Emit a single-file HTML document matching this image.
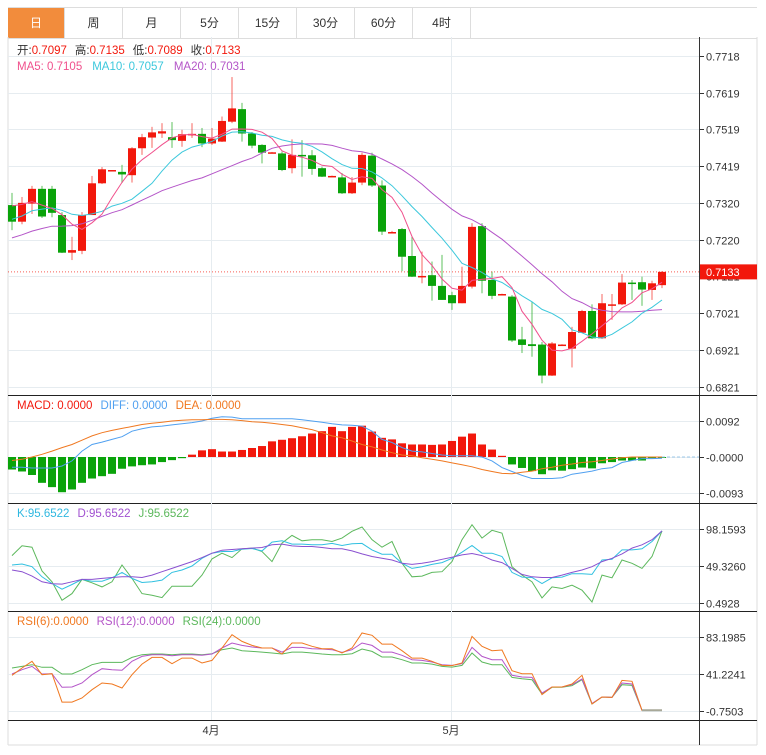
<!DOCTYPE html>
<html><head><meta charset="utf-8">
<style>
body{margin:0;background:#fff;font-family:"Liberation Sans","Noto Sans CJK SC",sans-serif;}
#wrap{position:relative;width:766px;height:755px;overflow:hidden;}
#tabs{position:absolute;left:8px;top:7px;height:30px;width:749px;border-top:1px solid #ddd;border-bottom:1px solid #ddd;display:flex;}
.tab{width:58px;height:30px;line-height:30px;text-align:center;font-size:12px;color:#333;border-right:1px solid #ddd;box-sizing:border-box;}
.tab.on{background:#f28c3c;color:#fff;width:57px;}
svg{position:absolute;left:0;top:0;}
</style></head>
<body>
<div id="wrap">
<div id="tabs">
<div class="tab on">日</div>
<div class="tab">周</div>
<div class="tab">月</div>
<div class="tab">5分</div>
<div class="tab">15分</div>
<div class="tab">30分</div>
<div class="tab">60分</div>
<div class="tab">4时</div>
</div>
<svg id="chart" width="766" height="755"></svg>
</div>
<script>
const prevCloses=[0.7150,0.7160,0.7140,0.7170,0.7180,0.7160,0.7190,0.7185,0.7200,0.7210,0.7230,0.7215,0.7240,0.7260,0.7250,0.7300,0.7320,0.7330,0.7340];
const opens=[0.7314,0.7269,0.7318,0.7358,0.7358,0.7287,0.7185,0.7190,0.7287,0.7373,0.7408,0.7404,0.7395,0.7468,0.7497,0.7508,0.7498,0.7488,0.7505,0.7507,0.7481,0.7486,0.7540,0.7574,0.7508,0.7477,0.7457,0.7454,0.7414,0.7450,0.7449,0.7414,0.7393,0.7389,0.7346,0.7375,0.7448,0.7367,0.7240,0.7249,0.7176,0.7122,0.7124,0.7095,0.7070,0.7048,0.7093,0.7257,0.7111,0.7073,0.7066,0.6950,0.6937,0.6936,0.6852,0.6936,0.6925,0.6968,0.7027,0.6953,0.7045,0.7045,0.7104,0.7105,0.7084,0.7097];
const highs=[0.7347,0.7336,0.7366,0.7366,0.7366,0.7295,0.7228,0.7295,0.7393,0.7417,0.7409,0.7423,0.7471,0.7507,0.7526,0.7536,0.7539,0.7518,0.7536,0.7523,0.7523,0.7554,0.7661,0.7591,0.7512,0.7479,0.7458,0.7459,0.7492,0.7490,0.7463,0.7418,0.7394,0.7401,0.7390,0.7456,0.7456,0.7381,0.7244,0.7252,0.7228,0.7188,0.7161,0.7179,0.7079,0.7147,0.7265,0.7265,0.7134,0.7074,0.7070,0.6984,0.7052,0.6943,0.6943,0.6937,0.6984,0.7030,0.7045,0.7073,0.7073,0.7127,0.7111,0.7120,0.7109,0.7135];
const lows=[0.7246,0.7262,0.7290,0.7279,0.7281,0.7184,0.7165,0.7181,0.7287,0.7371,0.7406,0.7374,0.7375,0.7450,0.7469,0.7496,0.7469,0.7472,0.7496,0.7471,0.7477,0.7485,0.7536,0.7486,0.7468,0.7427,0.7455,0.7406,0.7400,0.7391,0.7396,0.7390,0.7392,0.7344,0.7344,0.7368,0.7363,0.7233,0.7238,0.7135,0.7119,0.7102,0.7055,0.7057,0.7030,0.7048,0.7088,0.7075,0.7059,0.7072,0.6943,0.6913,0.6903,0.6831,0.6851,0.6935,0.6874,0.6968,0.6951,0.6951,0.7003,0.7043,0.7057,0.7041,0.7057,0.7089];
const closes=[0.7269,0.7320,0.7358,0.7283,0.7293,0.7185,0.7192,0.7287,0.7373,0.7411,0.7409,0.7397,0.7468,0.7498,0.7511,0.7514,0.7490,0.7506,0.7507,0.7481,0.7494,0.7542,0.7576,0.7508,0.7475,0.7456,0.7457,0.7409,0.7450,0.7447,0.7412,0.7391,0.7393,0.7346,0.7375,0.7450,0.7367,0.7242,0.7241,0.7174,0.7120,0.7122,0.7095,0.7057,0.7048,0.7095,0.7255,0.7109,0.7068,0.7073,0.6947,0.6935,0.6932,0.6852,0.6939,0.6936,0.6970,0.7027,0.6953,0.7048,0.7045,0.7104,0.7100,0.7085,0.7102,0.7133];
const macdHist=[-0.0032,-0.0037,-0.0046,-0.0066,-0.0077,-0.0090,-0.0083,-0.0066,-0.0055,-0.0049,-0.0043,-0.0030,-0.0024,-0.0021,-0.0019,-0.0013,-0.0008,-0.0003,0.0006,0.0017,0.0020,0.0014,0.0014,0.0018,0.0023,0.0028,0.0040,0.0044,0.0048,0.0053,0.0060,0.0066,0.0077,0.0066,0.0077,0.0080,0.0065,0.0049,0.0045,0.0035,0.0032,0.0032,0.0031,0.0032,0.0041,0.0052,0.0060,0.0032,0.0019,0.0003,-0.0019,-0.0028,-0.0036,-0.0044,-0.0034,-0.0035,-0.0031,-0.0027,-0.0029,-0.0016,-0.0013,-0.0009,-0.0009,-0.0009,-0.0003,-0.0001];
const diffVals=[-0.0026,-0.0026,-0.0028,-0.0028,-0.0028,-0.0023,-0.0010,0.0015,0.0032,0.0038,0.0045,0.0052,0.0066,0.0072,0.0077,0.0079,0.0082,0.0085,0.0088,0.0092,0.0099,0.0103,0.0102,0.0098,0.0098,0.0098,0.0098,0.0098,0.0098,0.0095,0.0092,0.0089,0.0085,0.0082,0.0081,0.0079,0.0066,0.0045,0.0037,0.0024,0.0015,0.0013,0.0009,0.0005,0.0003,0.0003,0.0003,0.0000,-0.0010,-0.0027,-0.0037,-0.0047,-0.0055,-0.0055,-0.0055,-0.0053,-0.0044,-0.0040,-0.0036,-0.0030,-0.0027,-0.0014,-0.0009,-0.0004,-0.0004,-0.0003];
const deaVals=[-0.0009,-0.0006,0.0000,0.0007,0.0015,0.0024,0.0032,0.0043,0.0054,0.0062,0.0068,0.0073,0.0078,0.0083,0.0086,0.0089,0.0092,0.0094,0.0095,0.0095,0.0096,0.0096,0.0095,0.0093,0.0090,0.0089,0.0086,0.0083,0.0080,0.0075,0.0070,0.0062,0.0054,0.0049,0.0041,0.0032,0.0026,0.0018,0.0011,0.0005,0.0003,-0.0002,-0.0006,-0.0010,-0.0015,-0.0020,-0.0025,-0.0032,-0.0037,-0.0042,-0.0043,-0.0039,-0.0036,-0.0030,-0.0026,-0.0021,-0.0018,-0.0014,-0.0012,-0.0009,-0.0005,-0.0002,0.0000,0.0000,0.0000,0.0000];
const kVals=[50.7,52.0,48.4,35.1,26.2,18.7,24.9,31.6,29.3,29.3,33.8,40.9,32.9,27.6,28.5,30.7,40.9,44.0,49.3,59.5,66.2,68.4,68.4,71.5,72.4,69.3,80.9,82.6,78.2,78.2,77.3,77.3,79.1,76.4,78.6,79.1,70.6,64.9,64.9,52.9,46.2,48.4,51.5,53.8,59.5,67.5,76.4,66.2,66.2,61.8,40.9,34.7,34.2,26.2,33.8,34.7,39.1,39.1,38.2,57.3,58.2,70.6,70.6,72.0,81.7,95.65];
const dVals=[44.0,41.8,36.0,28.5,25.8,25.4,28.5,31.6,31.6,32.9,34.2,35.1,35.1,34.2,37.3,41.8,46.2,50.7,55.1,60.4,66.2,70.2,71.1,72.0,72.9,73.7,77.3,78.2,75.9,75.1,75.1,73.7,72.0,72.0,69.3,65.3,61.8,59.5,57.3,52.9,51.5,52.9,55.1,58.2,60.9,64.0,65.8,63.1,57.3,53.8,46.2,38.2,35.1,34.2,34.2,37.3,40.9,44.0,48.4,55.1,59.5,65.3,72.9,77.3,84.0,95.65];
const jVals=[63.1,76.0,74.2,42.7,28.5,4.0,12.9,31.6,27.1,21.8,28.5,50.7,32.9,12.9,10.7,7.6,22.7,22.7,22.7,37.3,58.7,66.2,60.4,72.0,72.9,68.4,55.1,79.5,89.7,82.6,84.0,84.0,81.7,86.2,95.1,100.8,84.0,74.2,81.7,52.9,35.1,36.0,40.9,41.8,55.1,84.0,103.9,86.2,96.4,92.8,48.4,37.3,28.5,7.2,21.8,19.6,24.0,17.4,1.8,37.3,33.8,57.3,52.9,46.2,61.8,95.65];
const rsi6=[39.7,48.0,55.6,40.4,41.6,9.4,9.4,14.0,23.4,31.0,29.9,25.3,40.4,52.5,60.1,60.1,52.9,59.3,59.3,53.7,56.7,70.7,85.8,78.2,73.7,70.7,70.7,63.9,76.4,76.4,72.6,69.9,69.9,65.0,70.7,87.7,85.1,75.2,75.2,67.7,59.3,59.3,55.6,51.0,50.7,53.7,83.9,72.6,67.7,68.4,45.0,41.6,41.6,17.8,26.5,26.5,29.9,39.7,7.2,15.1,14.7,34.0,32.9,0,0,0];
const rsi12=[41.2,46.1,49.9,41.2,41.6,26.1,26.5,31.0,40.4,47.2,46.1,45.4,55.6,61.2,63.1,63.1,62.0,63.1,63.1,62.4,63.9,70.7,76.4,73.7,71.8,70.7,70.7,66.1,71.4,71.4,69.9,69.6,68.8,65.8,68.8,76.4,73.7,66.1,66.1,62.4,57.5,56.7,54.8,51.8,51.0,52.9,71.4,61.2,57.5,57.5,39.7,37.8,37.4,19.7,26.5,26.5,29.1,35.5,7.9,15.1,14.7,31.0,29.9,0,0,0];
const rsi24=[48.0,49.9,51.8,48.8,48.8,41.2,41.2,46.1,51.8,54.4,54.4,54.4,60.1,63.1,63.9,63.9,63.1,63.9,63.9,63.1,64.3,68.8,70.7,67.7,66.9,66.1,65.0,63.9,66.1,66.1,65.0,63.9,63.1,63.1,64.3,69.6,66.9,60.5,60.5,57.5,53.7,53.7,52.5,49.9,49.1,51.0,65.0,54.8,51.8,51.8,37.4,35.9,34.8,18.5,26.1,26.1,28.0,34.8,7.2,15.1,14.7,29.1,28.3,0,0,0];
const priceTicks=[0.7718,0.7619,0.7519,0.7419,0.7320,0.7220,0.7121,0.7021,0.6921,0.6821];
const macdTicks=[0.0092,0,-0.0093];
const macdTickLabels=["0.0092","-0.0000","-0.0093"];
const kdjTicks=[98.1593,49.3260,0.4928];
const rsiTicks=[83.1985,41.2241,-0.7503];
const monthLabels=["4月","5月"];
const monthIdx=[20,44];
const lastPrice=0.7133;

const S=document.getElementById('chart');
const NS='http://www.w3.org/2000/svg';
function mk(tag,attrs,name,txt){const e=document.createElementNS(NS,tag);for(const k in attrs)e.setAttribute(k,attrs[k]);


if(txt!==undefined)e.textContent=txt;S.appendChild(e);return e;}
const RED='#f2180c',GREEN='#0aa30a';
function X(i){return 12+i*10;}
function PY(p){return 387-(p-0.6821)/0.0897*331;}
function MY(v){return 457-v/0.0092*36;}
function KY(v){return 566-(v-49.326)/48.833*37;}
function RY(v){return 674-(v-41.2241)/41.9744*37;}
const N=closes.length;

mk('line',{x1:757,y1:37,x2:757,y2:745,stroke:'#ddd'},'outer-right-border');
mk('line',{x1:8,y1:745,x2:757,y2:745,stroke:'#ddd'},'outer-bottom-border');
mk('line',{x1:8,y1:37,x2:8,y2:745,stroke:'#ddd'},'outer-left-border');
mk('line',{x1:699.5,y1:37,x2:699.5,y2:745,stroke:'#333'},'right-axis-line');
[395.5,503.5,611.5,720.5].forEach(y=>mk('line',{x1:8,y1:y,x2:757,y2:y,stroke:'#222'},'panel-separator'));
monthIdx.forEach((ix,k)=>{mk('line',{x1:X(ix)-0.5,y1:37,x2:X(ix)-0.5,y2:720,stroke:'#e6ecf0'},'month-gridline');
mk('text',{x:X(ix)-1,y:734,'font-size':11,fill:'#333','text-anchor':'middle'},'x-axis-label',monthLabels[k]);});
function ticks(vals,labels,fy,nm){vals.forEach((v,k)=>{const y=Math.round(fy(v))+0.5;
mk('line',{x1:8,y1:y,x2:699,y2:y,stroke:'#e6ecf0'},nm+'-gridline');
mk('line',{x1:699,y1:y,x2:704,y2:y,stroke:'#333'},nm+'-tick');
mk('text',{x:706,y:y+4,'font-size':11,fill:'#333'},nm+'-tick-label',labels[k]);});}
ticks(priceTicks,priceTicks.map(v=>v.toFixed(4)),PY,'price');
ticks(macdTicks,macdTickLabels,MY,'macd');
ticks(kdjTicks,kdjTicks.map(v=>v.toFixed(4)),KY,'kdj');
ticks(rsiTicks,rsiTicks.map(v=>v.toFixed(4)),RY,'rsi');

for(let i=0;i<N;i++){const up=closes[i]>=opens[i];const c=up?RED:GREEN;const x=X(i);
mk('line',{x1:x,y1:PY(highs[i]),x2:x,y2:PY(lows[i]),stroke:c,'stroke-opacity':0.55,'stroke-width':1.2},'candle-wick');
const t=PY(Math.max(opens[i],closes[i])),b=PY(Math.min(opens[i],closes[i]));
mk('rect',{x:x-4,y:t,width:8,height:Math.max(1.5,b-t),fill:c},'candle-body');}

const all=prevCloses.concat(closes);const off=prevCloses.length;
function ma(n){const r=[];for(let i=0;i<N;i++){let s=0;for(let k=0;k<n;k++)s+=all[off+i-k];r.push(s/n);}return r;}
const ma5=ma(5),ma10=ma(10),ma20=ma(20);
function poly(arr,fy,col,name,w,from,to){const pts=[];for(let i=(from||0);i<(to||arr.length);i++)pts.push(X(i)+','+fy(arr[i]).toFixed(1));
mk('polyline',{points:pts.join(' '),fill:'none',stroke:col,'stroke-width':w||1},name);}
poly(ma20,PY,'#b455c8','ma20-line');poly(ma10,PY,'#3cc8dc','ma10-line');poly(ma5,PY,'#f0508c','ma5-line');
const ly=PY(lastPrice);
mk('line',{x1:8,y1:ly,x2:699,y2:ly,stroke:RED,'stroke-dasharray':'1,2','stroke-opacity':0.7},'last-price-line');
mk('rect',{x:700,y:ly-7.5,width:57,height:15,fill:RED},'last-price-tag');
mk('text',{x:706,y:ly+4,'font-size':11,fill:'#fff'},'last-price-value',lastPrice.toFixed(4));

for(let i=0;i<N;i++){const y0=MY(0),y1=MY(macdHist[i]);mk('rect',{x:X(i)-4,y:Math.min(y0,y1),width:8,height:Math.max(1,Math.abs(y1-y0)),fill:macdHist[i]>=0?RED:GREEN},'macd-bar');}
mk('line',{x1:X(N-1),y1:MY(0),x2:699,y2:MY(0),stroke:'#9cc8e8','stroke-dasharray':'3,2'},'macd-zero-line');
poly(diffVals,MY,'#50a0f0','diff-line');poly(deaVals,MY,'#f07820','dea-line');

poly(jVals,KY,'#5cb85c','j-line');poly(kVals,KY,'#30c0e0','k-line');poly(dVals,KY,'#8a50d0','d-line');

poly(rsi24,RY,'#5cb85c','rsi24-line');poly(rsi12,RY,'#b455c8','rsi12-line');poly(rsi6,RY,'#f07820','rsi6-line');
poly(rsi6,RY,'#a8a898','rsi-flat-tail',2,N-3,N);

function leg(y,parts,name){const t=mk('text',{x:17,y:y,'font-size':11.5},name);let first=true;
parts.forEach(p=>{const s=document.createElementNS(NS,'tspan');s.setAttribute('fill',p[1]);if(!first)s.setAttribute('dx',p[2]||0);s.textContent=p[0];t.appendChild(s);first=false;});}
leg(54,[['开:','#333'],['0.7097',RED],['高:','#333',8],['0.7135',RED],['低:','#333',8],['0.7089',RED],['收:','#333',8],['0.7133',RED]],'ohlc-legend');
leg(70,[['MA5: 0.7105','#f0508c'],['MA10: 0.7057','#3cc8dc',10],['MA20: 0.7031','#b455c8',10]],'ma-legend');
leg(409,[['MACD: 0.0000','#f2180c'],['DIFF: 0.0000','#50a0f0',8],['DEA: 0.0000','#f07820',8]],'macd-legend');
leg(517,[['K:95.6522','#30b8e0'],['D:95.6522','#a050d0',8],['J:95.6522','#5cb85c',8]],'kdj-legend');
leg(625,[['RSI(6):0.0000','#f07820'],['RSI(12):0.0000','#b455c8',8],['RSI(24):0.0000','#5cb85c',8]],'rsi-legend');
</script>
</body></html>
